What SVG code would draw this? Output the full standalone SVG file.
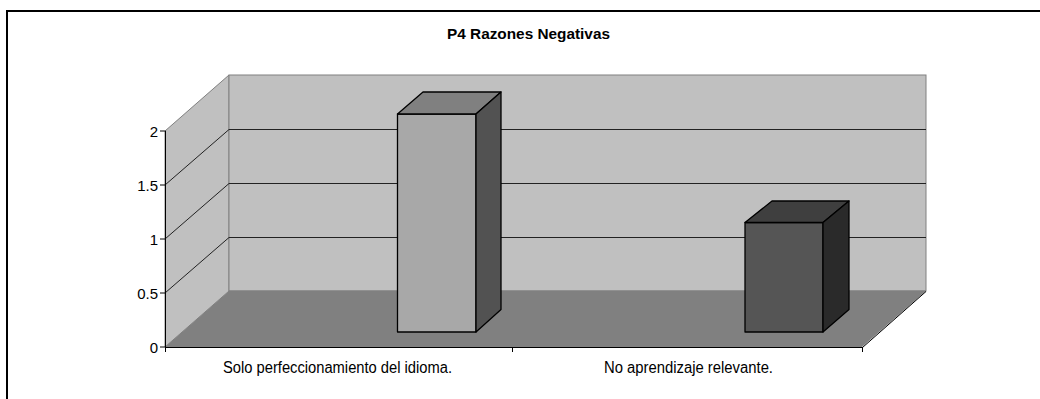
<svg xmlns="http://www.w3.org/2000/svg" width="1040" height="399" viewBox="0 0 1040 399">
  <style>
    .wall { fill: #c0c0c0; stroke: #808080; stroke-width: 1; }
    .floor { fill: #808080; stroke: none; }
    .grid { stroke: #222; stroke-width: 1; fill: none; }
    .axis { stroke: #000; stroke-width: 1; fill: none; }
    .bar { stroke: #000; stroke-width: 1.3; stroke-linejoin: round; }
    .lbl { font-family: "Liberation Sans", Arial, sans-serif; font-size: 16px; fill: #000; }
    .num { font-family: "Liberation Sans", Arial, sans-serif; font-size: 15px; fill: #000; text-anchor: end; }
    .title { font-family: "Liberation Sans", Arial, sans-serif; font-size: 15px; font-weight: bold; fill: #000; }
  </style>
  <rect x="0" y="0" width="1040" height="399" fill="#fff"/>
  <g id="frame">
    <rect x="7" y="11" width="1040" height="400" fill="none" stroke="#000" stroke-width="2"/>
  </g>
  <g id="title">
    <text class="title" x="447" y="38.5" textLength="163" lengthAdjust="spacingAndGlyphs">P4 Razones Negativas</text>
  </g>
  <g id="plot-area">
    <polygon class="wall" points="165,131 229,75 229,291 165,347"/>
    <rect class="wall" x="229" y="75" width="697" height="216"/>
    <polygon class="floor" points="165,347 229,291 926,291 862,347"/>
    <line x1="229" y1="291" x2="926" y2="291" stroke="#808080"/>
  </g>
  <g id="gridlines">
    <line class="grid" x1="229" y1="237.5" x2="926" y2="237.5"/>
    <line class="grid" x1="229" y1="183.5" x2="926" y2="183.5"/>
    <line class="grid" x1="229" y1="129.5" x2="926" y2="129.5"/>
    <line class="grid" x1="165" y1="293" x2="229" y2="237.5"/>
    <line class="grid" x1="165" y1="239" x2="229" y2="183.5"/>
    <line class="grid" x1="165" y1="185" x2="229" y2="129.5"/>
  </g>
  <g id="axes">
    <line class="axis" x1="165.5" y1="131" x2="165.5" y2="347"/>
    <line class="axis" x1="160" y1="131" x2="165.5" y2="131"/>
    <line class="axis" x1="160" y1="185" x2="165.5" y2="185"/>
    <line class="axis" x1="160" y1="239" x2="165.5" y2="239"/>
    <line class="axis" x1="160" y1="293" x2="165.5" y2="293"/>
    <line class="axis" x1="160" y1="347" x2="165.5" y2="347"/>
    <line class="axis" x1="165" y1="347.5" x2="862.5" y2="347.5"/>
    <line class="axis" x1="862.5" y1="347.5" x2="926" y2="291.5"/>
    <line class="axis" x1="165.5" y1="347" x2="165.5" y2="352"/>
    <line class="axis" x1="512.5" y1="347" x2="512.5" y2="352"/>
    <line class="axis" x1="862.5" y1="347" x2="862.5" y2="352"/>
  </g>
  <g id="y-labels">
    <text class="num" x="158" y="136.5">2</text>
    <text class="num" x="158" y="190.5">1.5</text>
    <text class="num" x="158" y="244.5">1</text>
    <text class="num" x="158" y="298.5">0.5</text>
    <text class="num" x="158" y="352.5">0</text>
  </g>
  <g id="bar-solo">
    <rect class="bar" x="397.5" y="114" width="78.5" height="218" fill="#a8a8a8"/>
    <polygon class="bar" points="397.5,114 423,92 501,92 476,114" fill="#808080"/>
    <polygon class="bar" points="476,114 501,92 501,309.5 476,332" fill="#525252"/>
  </g>
  <g id="bar-no">
    <rect class="bar" x="745" y="222.5" width="78" height="109.5" fill="#555555"/>
    <polygon class="bar" points="745,222.5 772,201 849,201 823,222.5" fill="#3f3f3f"/>
    <polygon class="bar" points="823,222.5 849,201 849,309.5 823,332" fill="#2a2a2a"/>
  </g>
  <g id="x-labels">
    <text class="lbl" x="223" y="372.5" textLength="229" lengthAdjust="spacingAndGlyphs">Solo perfeccionamiento del idioma.</text>
    <text class="lbl" x="604" y="372.5" textLength="169" lengthAdjust="spacingAndGlyphs">No aprendizaje relevante.</text>
  </g>
</svg>
